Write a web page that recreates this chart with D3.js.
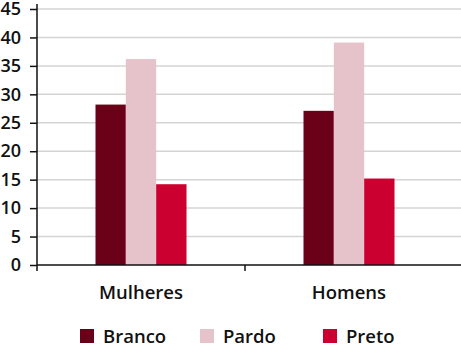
<!DOCTYPE html>
<html>
<head>
<meta charset="utf-8">
<script src="https://cdn.jsdelivr.net/npm/d3@7"></script>
<style>
  body { margin: 0; background: #fff; }
  text { font-family: "Open Sans", sans-serif; fill: #111; font-weight: 600; }
</style>
</head>
<body>
<script>
const width = 461,
  height = 350;

// data
const groups = ["Mulheres", "Homens"];
const series = ["Branco", "Pardo", "Preto"];
const branco = [28.2, 27.1];
const pardo = [36.2, 39.1];
const preto = [14.2, 15.2];
const yTicks = [0, 5, 10, 15, 20, 25, 30, 35, 40, 45];
const colors = ["#6b0019", "#e6c3ca", "#cc0030"];

const values = [branco, pardo, preto];
const data = groups.map((g, i) => ({
  group: g,
  vals: series.map((s, j) => ({ key: s, value: values[j][i] }))
}));

const plotLeft = 37, plotRight = 453, plotTop = 9, plotBottom = 265;

const svg = d3
  .select("body")
  .append("svg")
  .attr("width", width)
  .attr("height", height);

const x0 = d3
  .scaleBand()
  .domain(groups)
  .range([plotLeft, plotRight])
  .paddingInner(0.5625)
  .paddingOuter(0.28125);

const x1 = d3
  .scaleBand()
  .domain(series)
  .range([0, x0.bandwidth()]);

const y = d3
  .scaleLinear()
  .domain([0, 45])
  .range([plotBottom, plotTop]);

const color = d3.scaleOrdinal().domain(series).range(colors);

// gridlines
svg
  .append("g")
  .selectAll("line")
  .data(yTicks.filter(d => d > 0))
  .enter()
  .append("line")
  .attr("x1", plotLeft)
  .attr("x2", width)
  .attr("y1", d => y(d))
  .attr("y2", d => y(d))
  .attr("stroke", "#d4d4d4")
  .attr("stroke-width", 1.5);

// bars
const g = svg
  .append("g")
  .selectAll("g")
  .data(data)
  .enter()
  .append("g")
  .attr("transform", d => `translate(${x0(d.group)},0)`);

g.selectAll("rect")
  .data(d => d.vals)
  .enter()
  .append("rect")
  .attr("x", d => x1(d.key))
  .attr("width", x1.bandwidth())
  .attr("y", d => y(d.value))
  .attr("height", d => y(0) - y(d.value))
  .attr("fill", d => color(d.key));

// y axis
const yAxis = d3
  .axisLeft(y)
  .tickValues(yTicks)
  .tickSize(7)
  .tickPadding(9);

const yG = svg
  .append("g")
  .attr("transform", `translate(${plotLeft},0)`)
  .call(yAxis);
yG.select(".domain").remove();
yG.selectAll("line").attr("stroke", "#111").attr("stroke-width", 1.5);
yG.selectAll("text")
  .attr("font-size", 18)
  .attr("font-family", "Open Sans")
  .attr("font-weight", 600)
  .attr("fill", "#111");

svg
  .append("line")
  .attr("x1", plotLeft)
  .attr("x2", plotLeft)
  .attr("y1", 4)
  .attr("y2", 271)
  .attr("stroke", "#111")
  .attr("stroke-width", 1.5);

// x axis
svg
  .append("line")
  .attr("x1", plotLeft)
  .attr("x2", width)
  .attr("y1", y(0))
  .attr("y2", y(0))
  .attr("stroke", "#111")
  .attr("stroke-width", 1.5);

svg
  .append("line")
  .attr("x1", (plotLeft + plotRight) / 2)
  .attr("x2", (plotLeft + plotRight) / 2)
  .attr("y1", y(0))
  .attr("y2", y(0) + 6)
  .attr("stroke", "#111")
  .attr("stroke-width", 1.5);

svg
  .append("g")
  .selectAll("text")
  .data(groups)
  .enter()
  .append("text")
  .attr("x", d => x0(d) + x0.bandwidth() / 2)
  .attr("y", 299)
  .attr("text-anchor", "middle")
  .attr("font-size", 18.5)
  .text(d => d);

// legend
const legendX = [80, 200, 323];
const legend = svg
  .append("g")
  .selectAll("g")
  .data(series)
  .enter()
  .append("g")
  .attr("transform", (d, i) => `translate(${legendX[i]},329)`);

legend
  .append("rect")
  .attr("width", 14)
  .attr("height", 14)
  .attr("fill", d => color(d));

legend
  .append("text")
  .attr("x", 23)
  .attr("y", 14)
  .attr("font-size", 18.5)
  .text(d => d);
</script>
</body>
</html>
